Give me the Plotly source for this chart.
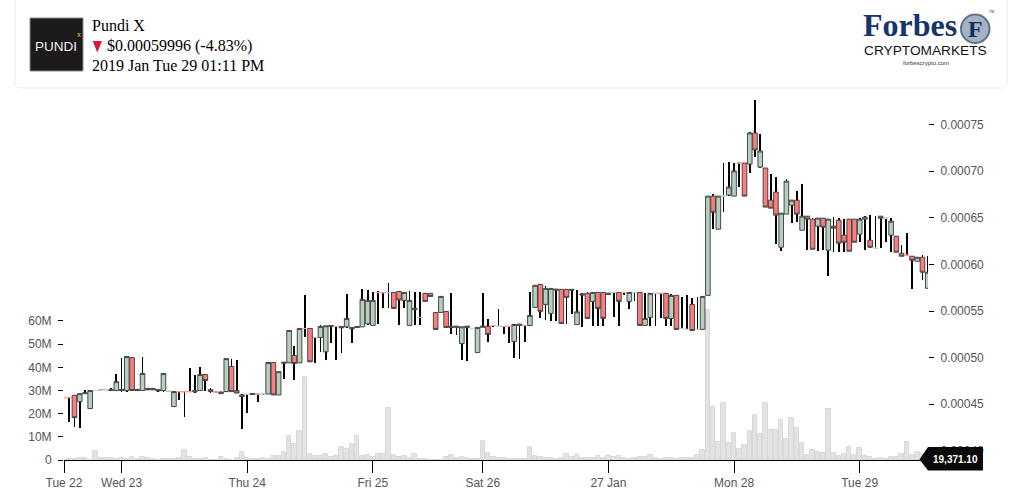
import plotly.graph_objects as go

# --- data (prices in units of 1e-5 USD, volumes in millions) ---
tick_index = [0, 11, 35, 59, 80, 104, 128, 152]
tick_labels = ["Tue 22", "Wed 23", "Thu 24", "Fri 25", "Sat 26", "27 Jan", "Mon 28", "Tue 29"]
volume_ticks = [0, 10, 20, 30, 40, 50, 60]
volume_tick_labels = ["0", "10M", "20M", "30M", "40M", "50M", "60M"]
price_ticks = [40, 45, 50, 55, 60, 65, 70, 75]

opens = [
45.73,45.73,45.96,45.28,46.14,44.53,46.46,46.55,46.53,46.60,
46.47,46.60,46.47,50.00,46.60,46.47,46.70,46.70,46.57,46.47,
46.39,44.75,46.36,46.36,46.36,46.33,46.47,48.19,46.57,46.34,
46.14,46.36,49.05,46.47,46.00,46.06,46.15,46.11,46.09,46.10,
49.48,46.00,49.40,49.44,50.23,49.44,53.14,53.13,52.18,52.17,
50.62,53.35,53.36,53.35,53.30,53.25,53.35,53.30,53.63,53.46,
56.99,56.99,56.97,57.00,57.10,56.14,53.46,55.30,54.33,56.90,
56.90,54.85,54.85,54.96,53.38,53.38,51.52,53.38,53.12,50.55,
53.25,53.35,53.46,53.34,53.36,53.36,51.74,53.60,53.46,53.45,
55.39,57.86,55.71,54.75,57.36,57.33,57.33,57.33,53.56,56.85,
56.90,56.04,57.00,57.00,56.92,56.99,57.00,57.00,56.04,56.99,
57.00,53.46,54.32,56.89,56.91,56.90,54.21,56.68,53.12,53.02,
55.71,53.02,53.03,56.68,67.33,63.78,67.32,67.44,67.33,70.89,
70.88,70.77,74.10,70.45,70.34,66.90,67.76,61.85,65.40,66.36,
66.90,63.67,65.18,64.86,64.10,64.97,61.53,64.10,64.75,63.14,
64.86,64.86,63.24,64.86,62.60,61.73,65.18,64.95,63.14,63.03,
61.20,61.00,60.88,60.34,60.77,57.44]
highs = [
45.73,45.73,45.96,46.14,46.50,46.47,46.48,46.55,46.55,46.79,
48.30,50.00,50.12,50.00,46.60,50.12,46.70,46.70,46.57,48.30,
46.41,46.40,46.36,46.36,48.94,48.19,49.05,48.19,46.79,46.34,
46.32,49.90,49.90,49.80,46.05,46.08,46.15,46.11,46.11,49.48,
49.48,48.50,49.50,53.00,51.20,53.13,56.72,53.13,52.18,53.50,
53.42,53.45,53.36,53.35,56.79,53.25,53.35,57.33,57.25,57.00,
57.15,56.99,57.97,57.00,57.10,57.00,57.10,57.00,57.00,56.90,
56.90,54.85,56.57,54.96,56.90,53.38,53.31,53.38,53.14,53.24,
56.90,54.20,53.50,55.18,53.36,53.36,53.56,53.60,53.46,57.00,
57.76,57.86,57.68,57.43,57.36,57.33,57.33,57.33,57.25,56.90,
57.00,57.00,57.00,57.00,56.92,57.05,57.00,57.00,57.00,57.01,
57.00,56.90,56.90,56.91,56.91,56.90,56.80,56.68,56.47,56.68,
56.40,56.47,56.57,67.33,67.55,67.33,70.88,70.99,70.88,70.95,
70.88,74.21,77.65,74.00,70.34,69.70,69.37,65.50,69.16,66.90,
67.87,68.62,65.18,64.97,64.97,64.97,64.86,65.07,64.96,64.86,
64.86,64.86,64.96,65.15,65.29,65.18,65.20,65.00,64.96,63.03,
62.06,63.35,60.88,60.77,60.99,60.88]
lows = [
45.71,43.10,42.56,42.49,46.14,44.53,46.46,46.53,46.53,46.47,
46.47,46.36,46.36,46.47,46.47,46.47,46.55,46.55,46.36,46.36,
46.39,44.75,45.50,43.67,46.30,46.25,46.47,46.43,46.25,46.30,
46.14,46.36,46.36,46.20,42.38,44.06,46.05,45.25,46.09,46.05,
46.00,46.00,47.76,49.44,47.65,49.44,52.17,49.55,49.48,50.62,
49.80,51.59,49.80,50.55,53.20,51.52,53.25,53.30,53.50,53.46,
53.56,55.28,55.28,55.28,53.46,55.28,53.46,53.46,53.46,56.04,
56.57,53.03,54.85,53.13,52.49,52.38,49.80,49.69,53.12,50.45,
53.25,51.63,53.30,53.30,52.49,51.52,50.00,49.90,51.63,53.45,
55.39,54.21,53.99,53.89,53.89,53.67,53.56,54.64,53.46,53.24,
54.21,53.35,53.40,53.35,56.80,54.32,53.35,56.68,55.18,56.04,
53.46,53.40,53.35,53.35,54.21,53.35,53.35,53.03,53.12,53.02,
52.92,53.02,53.03,56.68,63.78,63.78,65.60,67.30,67.33,68.30,
67.33,69.80,71.52,70.34,66.15,66.04,62.17,61.42,65.40,64.43,
64.53,63.67,61.53,61.63,61.42,61.53,58.76,61.31,61.31,61.31,
61.42,62.38,62.38,61.52,61.74,61.73,61.74,62.38,61.31,61.31,
60.88,60.98,57.33,60.34,58.30,57.44]
closes = [
45.71,45.71,43.56,46.14,46.22,46.47,46.48,46.53,46.55,46.47,
47.43,46.47,50.12,46.47,46.47,48.30,46.55,46.55,46.45,48.30,
46.41,46.36,46.34,46.34,46.34,46.45,48.19,47.54,46.36,46.30,
46.32,49.90,46.36,46.20,45.82,46.08,46.05,46.09,46.11,49.48,
46.00,48.50,49.50,52.92,49.37,53.13,53.12,49.55,52.16,53.35,
53.42,53.45,53.34,53.20,54.20,53.10,53.25,56.25,56.14,56.14,
56.97,56.97,56.99,55.28,56.18,57.00,56.14,55.15,54.31,56.04,
56.57,53.03,56.57,53.24,53.25,53.25,53.31,53.25,53.14,53.24,
53.38,52.49,53.44,53.36,53.34,53.34,53.56,53.45,53.44,54.53,
57.76,54.96,57.43,57.43,57.26,53.67,56.47,57.25,54.92,56.72,
54.21,57.00,55.28,54.21,56.80,57.01,56.04,56.98,57.00,57.01,
53.46,54.21,56.90,56.91,56.89,54.21,56.68,53.03,53.14,53.04,
52.92,53.04,56.57,67.33,65.60,67.33,67.34,68.30,70.03,70.87,
67.33,74.10,72.28,72.17,66.15,66.04,65.29,65.50,68.94,66.90,
65.40,65.18,64.86,61.63,64.97,64.00,64.86,63.89,62.28,62.38,
61.42,62.38,64.86,65.07,61.85,61.75,64.96,64.97,64.64,61.31,
60.88,60.98,60.45,60.77,59.16,59.16]
volumes = [
0.2,0.3,0.3,0.7,0.7,0.2,3.7,0.8,0.8,0.8,
0.3,0.7,0.4,1.1,0.4,1.1,0.8,0.4,0.1,0.3,
0.3,0.3,0.7,4.2,1.1,0.3,0.3,0.7,0.2,0.2,
1.1,0.3,0.2,0.7,3.3,0.7,0.3,0.3,0.7,0.4,
1.7,1.7,3.3,10.4,6.9,12.5,36.0,2.6,1.7,1.7,
2.6,1.3,1.7,5.6,4.7,6.9,10.4,1.7,2.2,1.3,
2.6,2.6,22.4,2.2,1.3,1.7,0.9,2.6,0.4,0.4,
0.1,0.0,0.0,1.3,2.2,0.9,1.3,0.9,0.4,0.4,
8.2,3.0,1.3,0.9,0.9,0.4,0.4,0.4,0.4,5.6,
1.7,1.3,0.9,0.9,0.4,0.9,2.6,1.3,2.2,0.9,
0.9,0.9,1.7,0.9,1.7,1.3,1.7,0.9,0.4,0.9,
1.3,1.3,2.2,0.9,0.4,0.7,0.7,0.3,0.7,0.7,
0.7,2.0,4.2,64.7,22.7,7.6,24.5,7.2,11.5,4.6,
6.3,12.4,19.3,11.1,24.5,12.8,12.8,17.1,8.9,18.0,
13.7,7.2,2.0,4.2,3.3,2.9,21.9,2.9,1.6,2.4,
5.5,2.0,5.0,1.6,1.2,0.3,0.7,0.3,1.2,1.2,
2.4,7.6,2.0,3.3,2.5,0.1]

# --- derived ---
P = 1e-5
idx = list(range(len(opens)))
thin = [i for i in idx if abs(opens[i] - closes[i]) < 0.05]
solid = [i for i in idx if i not in thin]

# --- pixel layout helpers (for decorations only) ---
L, R, T, B = 64, 928, 92, 460
def px(x): return (x - L) / (R - L)
def py(y): return (B - y) / (B - T)

fig = go.Figure()

fig.add_trace(go.Bar(
    x=idx, y=[v * 1e6 for v in volumes], width=0.86, yaxis="y",
    marker=dict(color="#e3e3e3", line=dict(color="#d9d9d9", width=1)), name="Volume"))

fig.add_trace(go.Bar(
    x=idx, y=[(highs[i] - lows[i]) * P for i in idx], base=[lows[i] * P for i in idx],
    width=0.15, yaxis="y2", marker=dict(color="#000000", line=dict(width=0)), name="Range"))

fig.add_trace(go.Candlestick(
    x=solid,
    open=[opens[i] * P for i in solid],
    high=[max(opens[i], closes[i]) * P for i in solid],
    low=[min(opens[i], closes[i]) * P for i in solid],
    close=[closes[i] * P for i in solid],
    yaxis="y2", name="Body",
    increasing=dict(fillcolor="#b4d0bc", line=dict(color="#484848", width=1)),
    decreasing=dict(fillcolor="#ff7c7c", line=dict(color="#484848", width=1))))

fig.add_trace(go.Candlestick(
    x=thin,
    open=[opens[i] * P for i in thin],
    high=[max(opens[i], closes[i]) * P for i in thin],
    low=[min(opens[i], closes[i]) * P for i in thin],
    close=[closes[i] * P for i in thin],
    yaxis="y2", name="Flat",
    increasing=dict(fillcolor="#b4d0bc", line=dict(color="#b9d6c2", width=1)),
    decreasing=dict(fillcolor="#ff7c7c", line=dict(color="#fb9a9a", width=1))))

axis_font = dict(family="Liberation Sans, Arial, sans-serif", size=12, color="#555555")

fig.update_layout(
    width=1024, height=490,
    margin=dict(l=L, r=1024 - R, t=T, b=490 - B, pad=0, autoexpand=False),
    template="none",
    paper_bgcolor="#ffffff", plot_bgcolor="#ffffff", showlegend=False,
    barmode="overlay", bargap=0, boxgap=0.12, boxgroupgap=0,
    xaxis=dict(range=[0, 165.05], tickmode="array", tickvals=tick_index, ticktext=tick_labels,
               ticks="outside", ticklen=12, tickcolor="#000000", tickwidth=1,
               showline=True, linecolor="#000000", linewidth=1, showgrid=False, zeroline=False,
               rangeslider=dict(visible=False), tickfont=axis_font, tickangle=0, automargin=False),
    yaxis=dict(range=[0, 158.8e6], side="left", tickmode="array",
               tickvals=[v * 1e6 for v in volume_ticks], ticktext=volume_tick_labels,
               ticks="outside", ticklen=5, tickcolor="#000000", tickwidth=1,
               showgrid=False, zeroline=False, showline=False, tickfont=axis_font,
               ticklabelstandoff=4, automargin=False),
    yaxis2=dict(range=[39.02 * P, 78.5 * P], side="right", overlaying="y", anchor="x",
                tickmode="array", tickvals=[v * P for v in price_ticks], tickformat=".5f",
                ticks="outside", ticklen=5, tickcolor="#000000", tickwidth=1,
                showgrid=False, zeroline=False, showline=False, tickfont=axis_font,
                ticklabelstandoff=4, automargin=False),
)

def path_shape(path, fill, line=None, width=0, layer="above"):
    return dict(type="path", xref="paper", yref="paper", path=path, fillcolor=fill,
                line=dict(color=line or fill, width=width), layer=layer)

def pts(*coords):
    return "M " + " L ".join(f"{px(a):.5f} {py(b):.5f}" for a, b in coords) + " Z"

# header card outline with rounded lower corners
card = (f"M {px(15):.5f} {py(-5):.5f} L {px(15):.5f} {py(83):.5f} "
        f"Q {px(15):.5f} {py(88):.5f} {px(20):.5f} {py(88):.5f} "
        f"L {px(1002):.5f} {py(88):.5f} Q {px(1007):.5f} {py(88):.5f} {px(1007):.5f} {py(83):.5f} "
        f"L {px(1007):.5f} {py(-5):.5f}")

shapes = [
    dict(type="path", xref="paper", yref="paper", path=card, line=dict(color="#ececec", width=1),
         fillcolor="rgba(0,0,0,0)", layer="below"),
    dict(type="rect", xref="paper", yref="paper", x0=px(30), x1=px(83), y0=py(71), y1=py(18),
         fillcolor="#1c1a1b", line=dict(color="#8a8a8a", width=1)),
    path_shape(pts((92.7, 41), (102, 41), (97.3, 52.5)), "#e0143c"),
    path_shape(pts((919.5, 459.5), (928, 447), (983, 447), (983, 470.5), (928, 470.5)), "#0a0a0a"),
    dict(type="circle", xref="paper", yref="paper", x0=px(961), x1=px(989.5), y0=py(43), y1=py(14.5),
         fillcolor="#a3b3c4", line=dict(color="#5f7389", width=2)),
]

def label(x, y, text, size, color="#000000", family="Liberation Serif, serif", anchor="left", bold=False):
    t = f"<b>{text}</b>" if bold else text
    return dict(xref="paper", yref="paper", x=px(x), y=py(y), text=t, showarrow=False,
                xanchor=anchor, yanchor="middle", align=anchor,
                font=dict(family=family, size=size, color=color), borderpad=0, borderwidth=0)

SANS = "Liberation Sans, Arial, sans-serif"
annotations = [
    label(92, 25.5, "Pundi X", 16),
    label(106.5, 46.5, "$0.00059996 (-4.83%)", 16),
    label(92, 65.5, "2019 Jan Tue 29 01:11 PM", 16),
    label(55.5, 46, "PUNDI", 13.5, "#eeeeee", SANS, "center"),
    label(79, 35, "x", 7, "#b99a4c", SANS, "center", True),
    label(909.5, 24.5, "Forbes", 32, "#17356b", "Liberation Serif, serif", "center", True),
    label(975.2, 28.5, "F", 24, "#14305e", "Liberation Serif, serif", "center", True),
    label(991, 12, "TM", 3.5, "#333333", SANS, "center"),
    label(925, 50, "CRYPTOMARKETS", 13.7, "#111111", SANS, "center"),
    label(926, 63.5, "forbescrypto.com", 6, "#333333", SANS, "center"),
    label(955.8, 459.6, "19,371.10", 10, "#ffffff", SANS, "center", True),
]
fig.update_layout(shapes=shapes, annotations=annotations)

fig.write_html("out.html", config={"displayModeBar": False},
               post_script="document.body.style.margin='0';document.body.style.overflow='hidden';")
